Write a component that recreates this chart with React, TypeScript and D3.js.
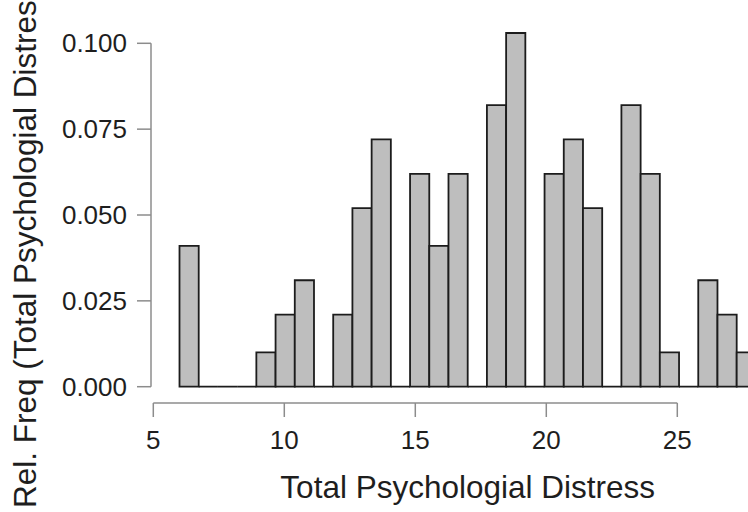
import * as d3 from "d3";

// relative frequency per histogram bin (30 bins from 6 to 28)
const binFreq = [
  0.041, 0, 0, 0, 0.01, 0.021, 0.031, 0, 0.021, 0.052, 0.072, 0, 0.062, 0.041,
  0.062, 0, 0.082, 0.103, 0, 0.062, 0.072, 0.052, 0, 0.082, 0.062, 0.01, 0,
  0.031, 0.021, 0.01,
];
const binRange = [6, 28];
const xTicks = [5, 10, 15, 20, 25];
const yTicks = [0, 0.025, 0.05, 0.075, 0.1];
const xTitle = "Total Psychologial Distress";
const yTitle = "Rel. Freq (Total Psychologial Distress)";

const W = 748;
const H = 512;

export default function App() {
  const x = d3.scaleLinear().domain([5, 25]).range([153.3, 677.3]);
  const y = d3.scaleLinear().domain([0, 0.1]).range([386.7, 43.3]);
  const edge = d3.scaleLinear().domain([0, binFreq.length]).range(binRange);

  const font = "'Liberation Sans', Arial, sans-serif";
  const axisCol = "#8c8c8c";
  const axisX = 151;
  const axisY = 403;

  // rectangle outline as a path so empty bins still draw a flat line
  const binPath = (i: number, f: number) => {
    const p = d3.path();
    const x0 = x(edge(i));
    const x1 = x(edge(i + 1));
    p.moveTo(x0, y(0));
    p.lineTo(x1, y(0));
    p.lineTo(x1, y(f));
    p.lineTo(x0, y(f));
    p.closePath();
    return p.toString();
  };

  return (
    <svg
      width={W}
      height={H}
      style={{ position: "fixed", left: 0, top: 0, background: "#fff" }}
      fontFamily={font}
    >
      <g>
        {binFreq.map((f, i) => (
          <path
            key={i}
            d={binPath(i, f)}
            fill="#bebebe"
            stroke="#1c1c1c"
            strokeWidth={1.8}
          />
        ))}
      </g>

      {/* y axis */}
      <g stroke={axisCol} strokeWidth={1.5} fill="none">
        <line x1={axisX} x2={axisX} y1={y(yTicks[0])} y2={y(yTicks[yTicks.length - 1])} />
        {yTicks.map((t) => (
          <line key={t} x1={axisX - 14} x2={axisX} y1={y(t)} y2={y(t)} />
        ))}
      </g>
      <g fontSize={26} fill="#1e1e1e" textAnchor="end">
        {yTicks.map((t) => (
          <text key={t} x={127} y={y(t)} dy="0.35em">
            {d3.format(".3f")(t)}
          </text>
        ))}
      </g>

      {/* x axis */}
      <g stroke={axisCol} strokeWidth={1.5} fill="none">
        <line x1={x(xTicks[0])} x2={x(xTicks[xTicks.length - 1])} y1={axisY} y2={axisY} />
        {xTicks.map((t) => (
          <line key={t} x1={x(t)} x2={x(t)} y1={axisY} y2={axisY + 14} />
        ))}
      </g>
      <g fontSize={26} fill="#1e1e1e" textAnchor="middle">
        {xTicks.map((t) => (
          <text key={t} x={x(t)} y={449}>
            {t}
          </text>
        ))}
      </g>

      <text x={x(17)} y={498} fontSize={31.5} fill="#1e1e1e" textAnchor="middle">
        {xTitle}
      </text>
      <text
        transform={`translate(36,508) rotate(-90)`}
        fontSize={31.5}
        fill="#1e1e1e"
        textAnchor="start"
      >
        {yTitle}
      </text>
    </svg>
  );
}
